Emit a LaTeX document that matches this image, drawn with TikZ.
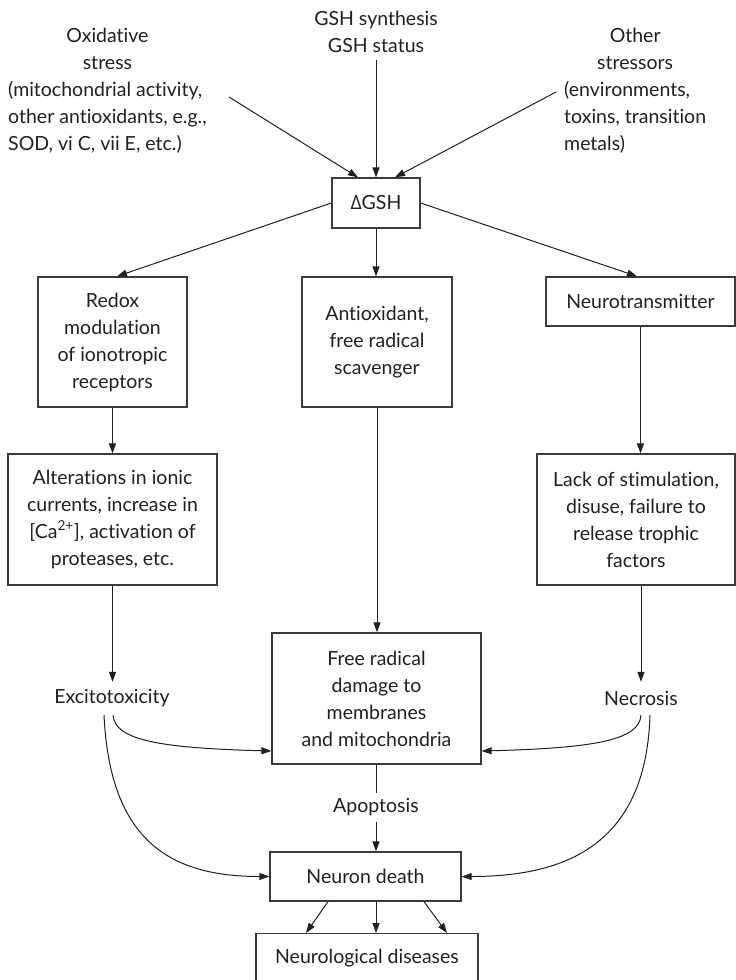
\documentclass[tikz,border=0pt]{standalone}
\usepackage{fontspec}
\setmainfont{Lato}[Ligatures=NoCommon]
\newfontfamily\grk{Open Sans}
\usetikzlibrary{arrows.meta,calc}
\definecolor{ink}{HTML}{231F20}
\definecolor{edge}{HTML}{3A3A3A}
\begin{document}
\begin{tikzpicture}[x=1pt,y=-1pt,
  every node/.style={font=\fontsize{19.5}{27}\selectfont, text=ink, inner sep=0pt},
  box/.style={draw=edge, line width=1.3pt, align=center},
  arr/.style={draw=ink, line width=1pt, -{Triangle[length=10pt,width=7pt]}},
  ln/.style={draw=ink, line width=1pt}]
\useasboundingbox (0,0) rectangle (736,980);

% top texts
\node[anchor=north] (gsh) at (376,6) {\begin{tabular}{@{}c@{}}GSH synthesis\\GSH status\end{tabular}};
\node[anchor=north west] (oxid) at (8,23) {\begin{tabular}{@{}l@{}}\multicolumn{1}{@{}c@{}}{Oxidative}\\\multicolumn{1}{@{}c@{}}{stress}\\(mitochondrial activity,\\other antioxidants, e.g.,\\SOD, vi C, vii E, etc.)\end{tabular}};
\node[anchor=north west] (other) at (564,23) {\begin{tabular}{@{}l@{}}\multicolumn{1}{@{}c@{}}{Other}\\\multicolumn{1}{@{}c@{}}{stressors}\\(environments,\\toxins, transition\\metals)\end{tabular}};
\coordinate (oxs) at (229,97);
\coordinate (ots) at (556,92);

\node[box, minimum width=88, minimum height=50] (dgsh) at (376,203) {{\grk Δ}GSH};

% row 2
\node[box, minimum width=149, minimum height=130] (redox) at (112.5,342) {Redox\\modulation\\of ionotropic\\receptors};
\node[box, minimum width=150, minimum height=130] (anti) at (377,342) {Antioxidant,\\free radical\\scavenger};
\node[box, minimum width=189, minimum height=49] (neuro) at (640.5,301.5) {Neurotransmitter};

% row 3
\node[box, minimum width=209, minimum height=131] (alter) at (112.5,519.5) {Alterations in ionic\\currents, increase in\\{[}Ca\textsuperscript{2+}{]}, activation of\\proteases, etc.};
\node[box, minimum width=198, minimum height=131] (lack) at (636,519.5) {Lack of stimulation,\\disuse, failure to\\release trophic\\factors};

% row 4
\node[minimum height=33] (excito) at (112,698.5) {Excitotoxicity};
\node[minimum height=33] (necro) at (641,698.5) {Necrosis};
\node[box, minimum width=209, minimum height=131] (free) at (376.5,698.5) {Free radical\\damage to\\membranes\\and mitochondria};

% bottom
\node[minimum height=29] (apop) at (376,807.5) {Apoptosis};
\node[box, minimum width=191, minimum height=49] (ndeath) at (365.5,876.5) {Neuron death};
\node[box, minimum width=222, minimum height=49, anchor=north] (ndis) at (367,933) {Neurological diseases};

% connectors
\draw[arr] (oxs) -- ([xshift=-18pt]dgsh.north);
\draw[arr] (gsh.south) -- (dgsh.north);
\draw[arr] (ots) -- ([xshift=19pt]dgsh.north);
\draw[arr] (dgsh.west) -- ([xshift=4.5pt]redox.north);
\draw[arr] (dgsh.south) -- (dgsh.south |- anti.north);
\draw[arr] (dgsh.east) -- ([xshift=-3.5pt]neuro.north);
\draw[arr] (redox.south) -- (alter.north);
\draw[arr] (neuro.south) -- (neuro.south |- lack.north);
\draw[arr] (alter.south) -- (alter.south |- excito.north);
\draw[arr] (necro.north |- lack.south) -- (necro.north);
\draw[arr] (anti.south) -- (anti.south |- free.north);

\draw[arr] ([xshift=1pt]excito.south) .. controls +(2,25) and +(-112,-3) .. ([yshift=-52.5pt]free.west);
\draw[arr] ([xshift=-8pt]excito.south) .. controls +(6,125) and +(-100,0) .. (ndeath.west);
\draw[arr] (necro.south) .. controls +(-2,25) and +(113,-3) .. ([yshift=-52.5pt]free.east);
\draw[arr] ([xshift=9pt]necro.south) .. controls +(-4,125) and +(110,0) .. (ndeath.east);

\draw[ln] (free.south) -- (free.south |- apop.north);
\draw[arr] (apop.south) -- (apop.south |- ndeath.north);
\draw[arr] ([xshift=-37.5pt]ndeath.south) -- ([xshift=-61pt]ndis.north);
\draw[arr] (apop.south |- ndeath.south) -- (apop.south |- ndis.north);
\draw[arr] ([xshift=58.5pt]ndeath.south) -- ([xshift=80pt]ndis.north);
\end{tikzpicture}
\end{document}
